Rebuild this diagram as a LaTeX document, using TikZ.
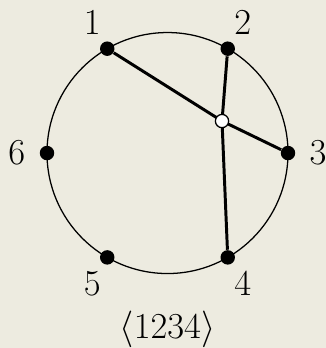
\documentclass[tikz,border=0pt]{standalone}
\usepackage{amsmath}
\usepackage{tikz}
\definecolor{paper}{HTML}{EDEBE0}
\newcommand{\labfont}{\fontsize{17}{20}\selectfont}

\begin{document}
\begin{tikzpicture}[
    vert/.style={circle, fill=black, inner sep=0pt, minimum size=2.4mm},
    cross/.style={circle, draw=black, fill=white, line width=0.6pt, inner sep=0pt, minimum size=2.2mm},
    lab/.style={font=\labfont, inner sep=0pt},
    chord/.style={line width=1.4pt}]
  % Background
  \fill[paper] (-2.78,-3.236) rectangle (2.63,2.54);
  \useasboundingbox (-2.78,-3.236) rectangle (2.63,2.54);

  % Circle
  \coordinate (O) at (0,0);
  \draw[line width=0.6pt] (O) circle (2);

  % Points
  \foreach \i/\a in {1/120, 2/60, 3/0, 4/-60, 5/-120, 6/180} {
    \node[vert] (p\i) at (\a:2) {};
    \node[lab] (l\i) at (\a:2.5) {$\i$};
  }

  % Chords
  \coordinate (x) at (0.905,0.531);
  \draw[chord] (p1) -- (x) -- (p3);
  \draw[chord] (p2) -- (x) -- (p4);
  \node[cross] (xc) at (x) {};

  % Caption
  \node[lab] (cap) at (0,-2.93) {$\langle 1234\rangle$};
\end{tikzpicture}
\end{document}
